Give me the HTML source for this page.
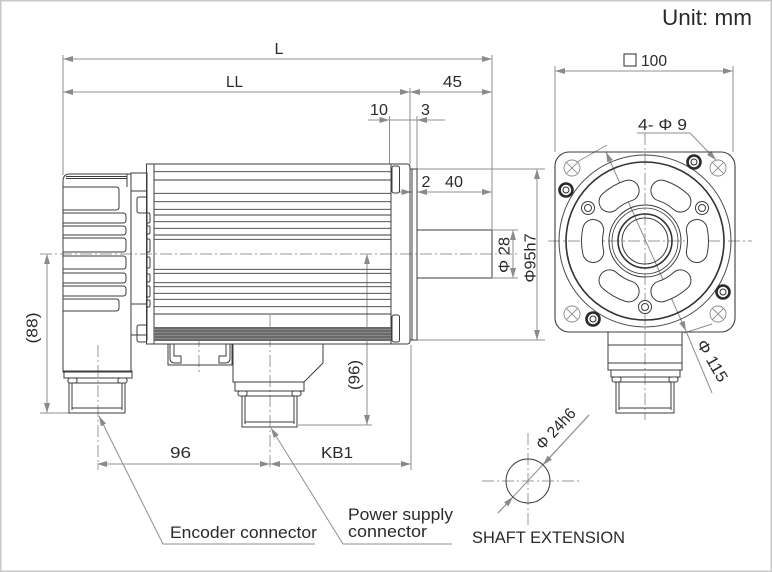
<!DOCTYPE html>
<html><head><meta charset="utf-8"><style>
html,body{margin:0;padding:0;background:#fff;}
svg{display:block;}
text{font-family:"Liberation Sans",Arial,sans-serif;fill:#2a2a2a;}
</style></head><body>
<svg width="772" height="572" viewBox="0 0 772 572" xmlns="http://www.w3.org/2000/svg">
<defs>
<marker id="a" viewBox="0 0 10 6" refX="10" refY="3" markerWidth="10" markerHeight="6" markerUnits="userSpaceOnUse" orient="auto-start-reverse"><path d="M0,0 L10,3 L0,6z" fill="#8a8a8a"/></marker>
</defs>
<rect x="0.75" y="0.75" width="770.5" height="570.5" fill="#fff" stroke="#c8c8c8" stroke-width="1.5"/>

<!-- centerlines -->
<g stroke="#9a9a9a" stroke-width="1" fill="none" stroke-dasharray="12,3,2,3">
<line x1="40" y1="254" x2="520" y2="254"/>
<line x1="98" y1="345" x2="98" y2="470"/>
<line x1="270" y1="315" x2="270" y2="470"/>
<line x1="199" y1="335" x2="199" y2="372"/>
<line x1="548" y1="241" x2="752" y2="241"/>
<line x1="645" y1="133" x2="645" y2="420"/>
<line x1="482" y1="481" x2="579" y2="481"/>
<line x1="528" y1="433" x2="528" y2="527"/>
</g>

<!-- dimension lines -->
<g stroke="#8f8f8f" stroke-width="1" fill="none">
<line x1="63" y1="59" x2="492" y2="59" marker-start="url(#a)" marker-end="url(#a)"/>
<line x1="63" y1="92" x2="410" y2="92" marker-start="url(#a)" marker-end="url(#a)"/>
<line x1="410" y1="92" x2="492" y2="92" marker-start="url(#a)" marker-end="url(#a)"/>
<line x1="63" y1="55" x2="63" y2="175"/>
<line x1="410" y1="88" x2="410" y2="164"/>
<line x1="492" y1="55" x2="492" y2="230"/>
<line x1="368" y1="120" x2="389.5" y2="120" marker-end="url(#a)"/>
<line x1="389.5" y1="120" x2="417" y2="120"/>
<line x1="445" y1="120" x2="417" y2="120" marker-end="url(#a)"/>
<line x1="389.5" y1="116" x2="389.5" y2="164"/>
<line x1="417" y1="116" x2="417" y2="169"/>
<line x1="398" y1="192" x2="411.5" y2="192" marker-end="url(#a)"/>
<line x1="417" y1="192" x2="492" y2="192" marker-start="url(#a)" marker-end="url(#a)"/>
<line x1="513" y1="230" x2="513" y2="278" marker-start="url(#a)" marker-end="url(#a)"/>
<line x1="493" y1="230" x2="518" y2="230"/>
<line x1="493" y1="278" x2="518" y2="278"/>
<line x1="537" y1="169" x2="537" y2="340" marker-start="url(#a)" marker-end="url(#a)"/>
<line x1="417" y1="169" x2="545" y2="169"/>
<line x1="417" y1="340" x2="545" y2="340"/>
<line x1="367" y1="254" x2="367" y2="425" marker-start="url(#a)" marker-end="url(#a)"/>
<line x1="298" y1="425" x2="372" y2="425"/>
<line x1="47" y1="254" x2="47" y2="413" marker-start="url(#a)" marker-end="url(#a)"/>
<line x1="40" y1="413" x2="70" y2="413"/>
<line x1="97" y1="464" x2="270" y2="464" marker-start="url(#a)" marker-end="url(#a)"/>
<line x1="270" y1="464" x2="411" y2="464" marker-start="url(#a)" marker-end="url(#a)"/>
<line x1="411" y1="345" x2="411" y2="470"/>
<line x1="555" y1="71" x2="733" y2="71" marker-start="url(#a)" marker-end="url(#a)"/>
<line x1="555" y1="66" x2="555" y2="152"/>
<line x1="733" y1="66" x2="733" y2="152"/>
<!-- leaders -->
<path d="M315,544 L163,544 L99,416" marker-end="url(#a)"/>
<path d="M452,544 L343,544 L271,428" marker-end="url(#a)"/>
<path d="M637,133 L690,133 L716,160" marker-end="url(#a)"/>
<!-- phi 115 -->
<line x1="606" y1="152" x2="686" y2="331" marker-start="url(#a)" marker-end="url(#a)"/>
<line x1="686" y1="331" x2="712" y2="393"/>
<line x1="607" y1="145" x2="577" y2="162"/>
<line x1="684" y1="333" x2="712" y2="324"/>
<!-- phi 24h6 -->
<line x1="498" y1="513" x2="589" y2="415"/>
<line x1="498" y1="513" x2="513" y2="497" marker-end="url(#a)"/>
<line x1="589" y1="415" x2="543" y2="465" marker-end="url(#a)"/>
</g>

<!-- shaft extension circle -->
<circle cx="528" cy="481" r="22" fill="none" stroke="#3c3c3c" stroke-width="1"/>

<!-- SIDE VIEW drawing -->
<g stroke="#3c3c3c" stroke-width="1" fill="none">
<!-- encoder -->
<path d="M63,181 Q63,174 70,174 L131,174 L131,372 L63,372 Z"/>
<line x1="66" y1="176.5" x2="127" y2="176.5"/>
<line x1="66" y1="178.5" x2="127" y2="178.5"/>
<line x1="127" y1="174" x2="127" y2="187"/>
<path d="M63,187 L116,187 Q119,187 119,190 L119,207 Q119,210 116,210 L63,210"/>
<path d="M63,213 L123,213 Q126,213 126,216 L126,220 Q126,223 123,223 L63,223"/>
<path d="M63,226 L123,226 Q126,226 126,229 L126,232 Q126,235 123,235 L63,235"/>
<path d="M63,238 L123,238 Q126,238 126,241 L126,249 Q126,252 123,252 L63,252"/>
<path d="M63,256 L123,256 Q126,256 126,259 L126,266 Q126,269 123,269 L63,269"/>
<path d="M63,273 L123,273 Q126,273 126,276 L126,280 Q126,283 123,283 L63,283"/>
<path d="M63,286 L123,286 Q126,286 126,289 L126,293 Q126,296 123,296 L63,296"/>
<path d="M63,299 L116,299 Q119,299 119,302 L119,308 Q119,311 116,311 L63,311"/>
<rect x="64" y="371" width="68" height="7"/>
<rect x="68" y="378" width="9" height="5" rx="2"/>
<rect x="118" y="378" width="9" height="5" rx="2"/>
<rect x="69" y="383" width="56" height="30"/>
<line x1="72" y1="383" x2="72" y2="410"/>
<line x1="122" y1="383" x2="122" y2="410"/>
<line x1="72" y1="408" x2="122" y2="408"/>
<!-- adapter -->
<rect x="131" y="173" width="16" height="162"/>
<line x1="131" y1="191" x2="147" y2="191"/>
<line x1="131" y1="304" x2="147" y2="304"/>
<rect x="137" y="197" width="10" height="16" rx="2"/>
<rect x="137" y="325" width="10" height="17" rx="2"/>
<path d="M147,213 L149,213 Q150,213 150,215 L150,221 Q150,223 149,223 L147,223"/>
<path d="M147,226 L149,226 Q150,226 150,228 L150,232 Q150,234 149,234 L147,234"/>
<path d="M147,239 L149,239 Q150,239 150,241 L150,250 Q150,252 149,252 L147,252"/>
<path d="M147,257 L149,257 Q150,257 150,259 L150,266 Q150,268 149,268 L147,268"/>
<path d="M147,274 L149,274 Q150,274 150,276 L150,280 Q150,282 149,282 L147,282"/>
<path d="M147,286 L149,286 Q150,286 150,288 L150,295 Q150,297 149,297 L147,297"/>
<path d="M147,300 L149,300 Q150,300 150,302 L150,305 Q150,307 149,307 L147,307"/>
<!-- body -->
<rect x="146.5" y="164" width="244.5" height="180"/>
<line x1="154" y1="164" x2="154" y2="344"/>
<g stroke-width="0.9">
<line x1="154" y1="171.7" x2="391" y2="171.7"/>
<line x1="154" y1="180" x2="391" y2="180"/>
<line x1="154" y1="193.3" x2="391" y2="193.3"/>
<line x1="154" y1="201.7" x2="391" y2="201.7"/>
<line x1="154" y1="209.3" x2="391" y2="209.3"/>
<line x1="154" y1="215" x2="391" y2="215"/>
<line x1="154" y1="221.7" x2="391" y2="221.7"/>
<line x1="154" y1="228.3" x2="391" y2="228.3"/>
<line x1="154" y1="235" x2="391" y2="235"/>
<line x1="154" y1="239.3" x2="391" y2="239.3"/>
<line x1="154" y1="269.3" x2="391" y2="269.3"/>
<line x1="154" y1="273.3" x2="391" y2="273.3"/>
<line x1="154" y1="282.7" x2="391" y2="282.7"/>
<line x1="154" y1="286.7" x2="391" y2="286.7"/>
<line x1="154" y1="293.3" x2="391" y2="293.3"/>
<line x1="154" y1="299.3" x2="391" y2="299.3"/>
<line x1="154" y1="306.7" x2="391" y2="306.7"/>
<line x1="154" y1="314" x2="391" y2="314"/>
</g>
<rect x="154" y="327" width="237" height="14" fill="#6a6a6a" stroke="none"/>
<g stroke="#a8a8a8" stroke-width="0.6">
<line x1="154" y1="329.5" x2="391" y2="329.5"/>
<line x1="154" y1="332.5" x2="391" y2="332.5"/>
<line x1="154" y1="335.5" x2="391" y2="335.5"/>
<line x1="154" y1="338.5" x2="391" y2="338.5"/>
</g>
<!-- flange -->
<path d="M391,164 L407,164 Q410,164 410,167 L410,341 Q410,344 407,344 L391,344"/>
<rect x="392" y="166" width="7.5" height="27" rx="2"/>
<rect x="392" y="315" width="7.5" height="27" rx="2"/>
<rect x="410" y="169" width="7" height="171"/>
<line x1="412" y1="169" x2="412" y2="340"/>
<!-- shaft -->
<rect x="417" y="230" width="75" height="48"/>
<!-- small box under body -->
<rect x="168" y="344" width="64" height="21"/>
<path d="M170,344 L170,358 Q170,363 175,363 L181,363 L181,356 L174,356 L174,344"/>
<path d="M230,344 L230,358 Q230,363 225,363 L219,363 L219,356 L226,356 L226,344"/>
<!-- power bracket -->
<path d="M233,344 L323,344 L323,363 L304,382 L233,382 Z"/>
<rect x="235" y="382" width="69" height="9"/>
<rect x="238" y="391" width="9" height="5" rx="2"/>
<rect x="292" y="391" width="9" height="5" rx="2"/>
<rect x="242" y="396" width="55" height="31"/>
<line x1="245" y1="396" x2="245" y2="424"/>
<line x1="294" y1="396" x2="294" y2="424"/>
<line x1="245" y1="422" x2="294" y2="422"/>
</g>

<!-- FRONT VIEW -->
<g fill="none">
<rect x="555" y="152" width="180" height="180" rx="14" stroke="#3c3c3c" stroke-width="1.1"/>
<g stroke="#8c8c8c" stroke-width="0.9">
<circle cx="572" cy="168" r="8"/><path d="M566.3,162.3 L577.7,173.7 M577.7,162.3 L566.3,173.7"/>
<circle cx="718" cy="168" r="8"/><path d="M712.3,162.3 L723.7,173.7 M723.7,162.3 L712.3,173.7"/>
<circle cx="572" cy="314" r="8"/><path d="M566.3,308.3 L577.7,319.7 M577.7,308.3 L566.3,319.7"/>
<circle cx="718" cy="314" r="8"/><path d="M712.3,308.3 L723.7,319.7 M723.7,308.3 L712.3,319.7"/>
</g>
<circle cx="645" cy="241" r="86" stroke="#4a4a4a" stroke-width="1"/>
<circle cx="645" cy="241" r="79" stroke="#333" stroke-width="1.6"/>
<circle cx="645" cy="241" r="36" stroke="#3c3c3c" stroke-width="1"/>
<circle cx="645" cy="241" r="33" stroke="#3c3c3c" stroke-width="0.8"/>
<circle cx="645" cy="241" r="27" stroke="#333" stroke-width="1.6"/>
<circle cx="645" cy="241" r="23" stroke="#3c3c3c" stroke-width="1"/>
<!-- slots -->
<g stroke="#3c3c3c" stroke-width="22" stroke-linecap="round">
<path d="M696.84,252.02 A53,53 0 0 0 696.84,229.98"/>
<path d="M680.46,201.62 A53,53 0 0 0 661.38,190.59"/>
<path d="M628.62,190.59 A53,53 0 0 0 609.54,201.62"/>
<path d="M593.16,229.98 A53,53 0 0 0 593.16,252.02"/>
<path d="M609.54,280.38 A53,53 0 0 0 628.62,291.41"/>
<path d="M661.38,291.41 A53,53 0 0 0 680.46,280.38"/>
</g>
<g stroke="#fff" stroke-width="20" stroke-linecap="round">
<path d="M696.84,252.02 A53,53 0 0 0 696.84,229.98"/>
<path d="M680.46,201.62 A53,53 0 0 0 661.38,190.59"/>
<path d="M628.62,190.59 A53,53 0 0 0 609.54,201.62"/>
<path d="M593.16,229.98 A53,53 0 0 0 593.16,252.02"/>
<path d="M609.54,280.38 A53,53 0 0 0 628.62,291.41"/>
<path d="M661.38,291.41 A53,53 0 0 0 680.46,280.38"/>
</g>
<!-- inner bolts -->
<g stroke="#3c3c3c" stroke-width="1" fill="#fff">
<circle cx="588" cy="208" r="6.5"/><circle cx="588" cy="208" r="3.5"/>
<circle cx="702" cy="208" r="6.5"/><circle cx="702" cy="208" r="3.5"/>
<circle cx="645" cy="307" r="6.5"/><circle cx="645" cy="307" r="3.5"/>
</g>
<!-- outer thick bolts -->
<g stroke="#2a2a2a" fill="#fff">
<circle cx="694" cy="162" r="6.5" stroke-width="2.6"/><circle cx="694" cy="162" r="3" stroke-width="1"/>
<circle cx="566" cy="190" r="6.5" stroke-width="2.6"/><circle cx="566" cy="190" r="3" stroke-width="1"/>
<circle cx="723" cy="292" r="6.5" stroke-width="2.6"/><circle cx="723" cy="292" r="3" stroke-width="1"/>
<circle cx="593" cy="319" r="6.5" stroke-width="2.6"/><circle cx="593" cy="319" r="3" stroke-width="1"/>
</g>
<!-- front connector -->
<g stroke="#3c3c3c" stroke-width="1">
<rect x="608" y="332" width="74" height="38"/>
<line x1="608" y1="345" x2="682" y2="345"/>
<line x1="608" y1="363" x2="682" y2="363"/>
<rect x="611" y="370" width="69" height="7"/>
<rect x="612" y="377" width="9" height="5" rx="2"/>
<rect x="669" y="377" width="9" height="5" rx="2"/>
<rect x="616" y="382" width="58" height="31"/>
<line x1="619" y1="382" x2="619" y2="410"/>
<line x1="671" y1="382" x2="671" y2="410"/>
<line x1="619" y1="408" x2="671" y2="408"/>
</g>
</g>

<!-- texts -->
<text x="752" y="25" font-size="22.5" text-anchor="end">Unit: mm</text>
<text x="279" y="54" font-size="16" text-anchor="middle">L</text>
<text x="234.5" y="87" font-size="16" text-anchor="middle" textLength="17" lengthAdjust="spacingAndGlyphs">LL</text>
<text x="452.5" y="87" font-size="16" text-anchor="middle" textLength="19" lengthAdjust="spacingAndGlyphs">45</text>
<text x="379" y="115" font-size="16" text-anchor="middle" textLength="18" lengthAdjust="spacingAndGlyphs">10</text>
<text x="425.5" y="115" font-size="16" text-anchor="middle">3</text>
<text x="426" y="187" font-size="16" text-anchor="middle">2</text>
<text x="454" y="187" font-size="16" text-anchor="middle" textLength="18" lengthAdjust="spacingAndGlyphs">40</text>
<text transform="translate(509.5,255) rotate(-90)" font-size="16" text-anchor="middle" textLength="36" lengthAdjust="spacingAndGlyphs">Φ 28</text>
<text transform="translate(535.5,258) rotate(-90)" font-size="16" text-anchor="middle" textLength="49" lengthAdjust="spacingAndGlyphs">Φ95h7</text>
<text transform="translate(359.5,375) rotate(-90)" font-size="16" text-anchor="middle" textLength="30" lengthAdjust="spacingAndGlyphs">(96)</text>
<text transform="translate(37.5,328) rotate(-90)" font-size="16" text-anchor="middle" textLength="31" lengthAdjust="spacingAndGlyphs">(88)</text>
<text x="180.5" y="458" font-size="16" text-anchor="middle" textLength="21" lengthAdjust="spacingAndGlyphs">96</text>
<text x="337" y="458" font-size="16" text-anchor="middle" textLength="32" lengthAdjust="spacingAndGlyphs">KB1</text>
<text x="170" y="538" font-size="16.5" textLength="147" lengthAdjust="spacingAndGlyphs">Encoder connector</text>
<text x="348" y="520" font-size="16.5" textLength="105" lengthAdjust="spacingAndGlyphs">Power supply</text>
<text x="348" y="537" font-size="16.5" textLength="79" lengthAdjust="spacingAndGlyphs">connector</text>
<text x="472" y="543" font-size="17" textLength="153" lengthAdjust="spacingAndGlyphs">SHAFT EXTENSION</text>
<rect x="624" y="54" width="12" height="12" fill="none" stroke="#2a2a2a" stroke-width="1"/>
<text x="641" y="66" font-size="16" textLength="26" lengthAdjust="spacingAndGlyphs">100</text>
<text x="638" y="130" font-size="16" textLength="49" lengthAdjust="spacingAndGlyphs">4- Φ 9</text>
<text transform="translate(712,361) rotate(60)" font-size="16" text-anchor="middle" dy="5" textLength="46" lengthAdjust="spacingAndGlyphs">Φ 115</text>
<text transform="translate(556,429) rotate(-47)" font-size="16" text-anchor="middle" dy="5" textLength="50" lengthAdjust="spacingAndGlyphs">Φ 24h6</text>
</svg>
</body></html>
